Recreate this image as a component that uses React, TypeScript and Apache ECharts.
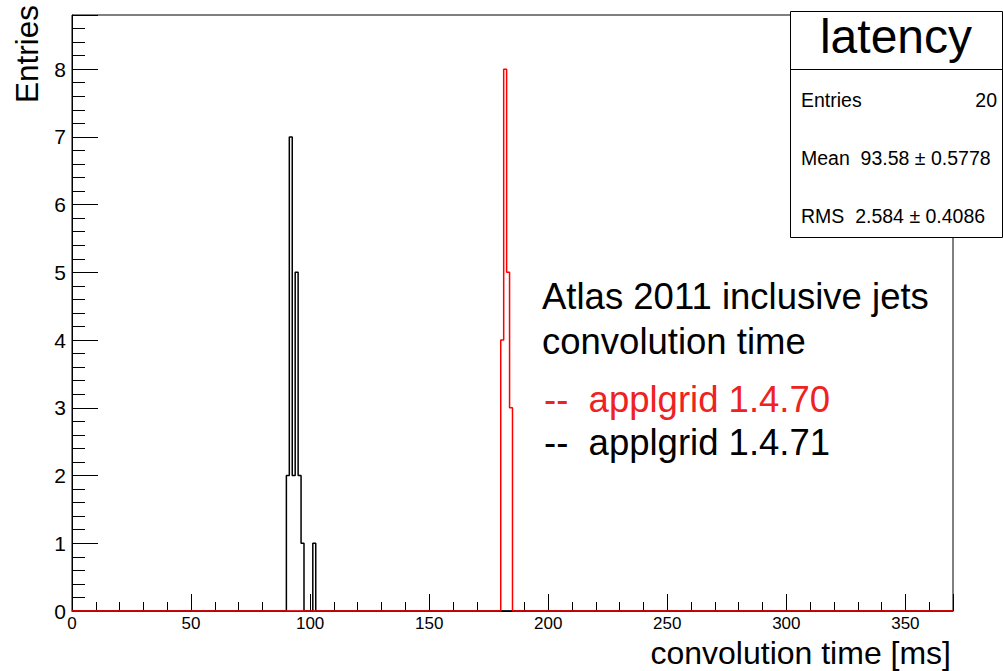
import React, { useEffect, useRef } from "react";
import * as echarts from "echarts";

// ---- data ----
const X_MIN = 0;
const X_MAX = 370;
const N_BINS = 300;
const xMajorTicks = [0, 50, 100, 150, 200, 250, 300, 350];
const yMajorTicks = [0, 1, 2, 3, 4, 5, 6, 7, 8];
const Y_MAX = 8.8;

// applgrid 1.4.71 (black): first non-empty bin index and counts
const blackFirstBin = 73;
const blackCounts = [2, 7, 2, 5, 2, 1, 0, 0, 0, 1];
// applgrid 1.4.70 (red)
const redFirstBin = 146;
const redCounts = [4, 8, 5, 3];

const statsTitle = "latency";
const statsEntries = "20";
const statsMean = "Mean  93.58 ± 0.5778";
const statsRms = "RMS  2.584 ± 0.4086";

const FONT = "'Liberation Sans', Arial, Helvetica, sans-serif";

function outline(firstBin: number, counts: number[]): number[][] {
  const w = (X_MAX - X_MIN) / N_BINS;
  const lo0 = X_MIN + firstBin * w;
  const pts: number[][] = [[X_MIN, 0], [lo0, 0]];
  counts.forEach((c, i) => {
    const lo = X_MIN + (firstBin + i) * w;
    const hi = lo + w;
    pts.push([lo, c], [hi, c]);
  });
  const hiLast = X_MIN + (firstBin + counts.length) * w;
  pts.push([hiLast, 0], [X_MAX, 0]);
  return pts;
}

export default function App() {
  const ref = useRef<HTMLDivElement>(null);
  useEffect(() => {
    if (!ref.current) return;
    const chart = echarts.init(ref.current, undefined, { renderer: "svg" });
    const isInt = (v: number) => Math.abs(v - Math.round(v)) < 1e-6;
    chart.setOption({
      animation: false,
      backgroundColor: "#fff",
      grid: {
        left: 72,
        right: 50,
        top: 15,
        bottom: 60,
        show: true,
        borderColor: "#000",
        borderWidth: 1,
        backgroundColor: "transparent",
      },
      xAxis: [
        {
          type: "value",
          min: X_MIN,
          max: X_MAX,
          interval: 50,
          position: "bottom",
          axisLine: { show: true, onZero: false, lineStyle: { color: "#000", width: 1 } },
          axisTick: { show: true, inside: true, length: 17, lineStyle: { color: "#000", width: 1 } },
          axisLabel: {
            formatter: (v: number) => (xMajorTicks.indexOf(Math.round(v)) >= 0 && isInt(v) ? String(Math.round(v)) : ""),
            fontSize: 17,
            color: "#000",
            margin: 4,
            fontFamily: FONT,
            showMaxLabel: true,
          },
          splitLine: { show: false },
        },
        {
          type: "value",
          min: X_MIN,
          max: X_MAX,
          interval: 10,
          position: "bottom",
          axisLine: { show: false, onZero: false },
          axisTick: { show: true, inside: true, length: 9, lineStyle: { color: "#000", width: 1 } },
          axisLabel: { show: false },
          splitLine: { show: false },
        },
      ],
      yAxis: [
        {
          type: "value",
          min: 0,
          max: Y_MAX,
          interval: 1,
          position: "left",
          axisLine: { show: true, onZero: false, lineStyle: { color: "#000", width: 1 } },
          axisTick: { show: true, inside: true, length: 26, lineStyle: { color: "#000", width: 1 } },
          axisLabel: {
            formatter: (v: number) => (isInt(v) && yMajorTicks.indexOf(Math.round(v)) >= 0 ? String(Math.round(v)) : ""),
            fontSize: 21,
            color: "#000",
            margin: 6,
            fontFamily: FONT,
          },
          splitLine: { show: false },
        },
        {
          type: "value",
          min: 0,
          max: Y_MAX,
          interval: 0.2,
          position: "left",
          axisLine: { show: false, onZero: false },
          axisTick: { show: true, inside: true, length: 13, lineStyle: { color: "#000", width: 1 } },
          axisLabel: { show: false },
          splitLine: { show: false },
        },
      ],
      series: [
        {
          type: "line",
          name: "applgrid 1.4.71",
          xAxisIndex: 0,
          yAxisIndex: 0,
          data: outline(blackFirstBin, blackCounts),
          showSymbol: false,
          symbol: "none",
          clip: false,
          silent: true,
          lineStyle: { color: "#000", width: 1.5 },
          z: 3,
        },
        {
          type: "line",
          name: "applgrid 1.4.70",
          xAxisIndex: 0,
          yAxisIndex: 0,
          data: outline(redFirstBin, redCounts),
          showSymbol: false,
          symbol: "none",
          clip: false,
          silent: true,
          lineStyle: { color: "#ff0000", width: 1.5 },
          z: 4,
        },
      ],
      graphic: [
        // axis titles
        {
          type: "text",
          x: 27,
          y: 5,
          rotation: Math.PI / 2,
          style: { text: "Entries", fontSize: 31.5, fontFamily: FONT, fill: "#000", align: "right", verticalAlign: "middle" },
        },
        {
          type: "text",
          x: 951,
          y: 653,
          style: { text: "convolution time [ms]", fontSize: 32, fontFamily: FONT, fill: "#000", align: "right", verticalAlign: "middle" },
        },
        // annotation
        {
          type: "text",
          x: 542,
          y: 296,
          style: { text: "Atlas 2011 inclusive jets", fontSize: 36.5, fontFamily: FONT, fill: "#000", align: "left", verticalAlign: "middle" },
        },
        {
          type: "text",
          x: 542,
          y: 341,
          style: { text: "convolution time", fontSize: 36.5, fontFamily: FONT, fill: "#000", align: "left", verticalAlign: "middle" },
        },
        {
          type: "text",
          x: 544,
          y: 399,
          style: { text: "--  applgrid 1.4.70", fontSize: 36.5, fontFamily: FONT, fill: "#ee2222", align: "left", verticalAlign: "middle" },
        },
        {
          type: "text",
          x: 544,
          y: 442,
          style: { text: "--  applgrid 1.4.71", fontSize: 36.5, fontFamily: FONT, fill: "#000", align: "left", verticalAlign: "middle" },
        },
        // stats box
        {
          type: "group",
          z: 100,
          children: [
            {
              type: "rect",
              shape: { x: 790.5, y: 11.5, width: 212, height: 226 },
              style: { fill: "#fff", stroke: "#000", lineWidth: 1 },
              z: 100,
            },
            {
              type: "line",
              shape: { x1: 790.5, y1: 69.5, x2: 1003, y2: 69.5 },
              style: { stroke: "#000", lineWidth: 1 },
              z: 101,
            },
            {
              type: "text",
              x: 896,
              y: 36,
              z: 101,
              style: { text: statsTitle, fontSize: 48, fontFamily: FONT, fill: "#000", align: "center", verticalAlign: "middle" },
            },
            {
              type: "text",
              x: 801,
              y: 100,
              z: 101,
              style: { text: "Entries", fontSize: 19.5, fontFamily: FONT, fill: "#000", align: "left", verticalAlign: "middle" },
            },
            {
              type: "text",
              x: 997,
              y: 100,
              z: 101,
              style: { text: statsEntries, fontSize: 19.5, fontFamily: FONT, fill: "#000", align: "right", verticalAlign: "middle" },
            },
            {
              type: "text",
              x: 801,
              y: 158,
              z: 101,
              style: { text: statsMean, fontSize: 19.5, fontFamily: FONT, fill: "#000", align: "left", verticalAlign: "middle" },
            },
            {
              type: "text",
              x: 801,
              y: 216,
              z: 101,
              style: { text: statsRms, fontSize: 19.5, fontFamily: FONT, fill: "#000", align: "left", verticalAlign: "middle" },
            },
          ],
        },
      ],
    });
    return () => chart.dispose();
  }, []);
  return (
    <div
      ref={ref}
      style={{ position: "absolute", left: 0, top: 0, width: 1003, height: 671, background: "#fff" }}
    />
  );
}
